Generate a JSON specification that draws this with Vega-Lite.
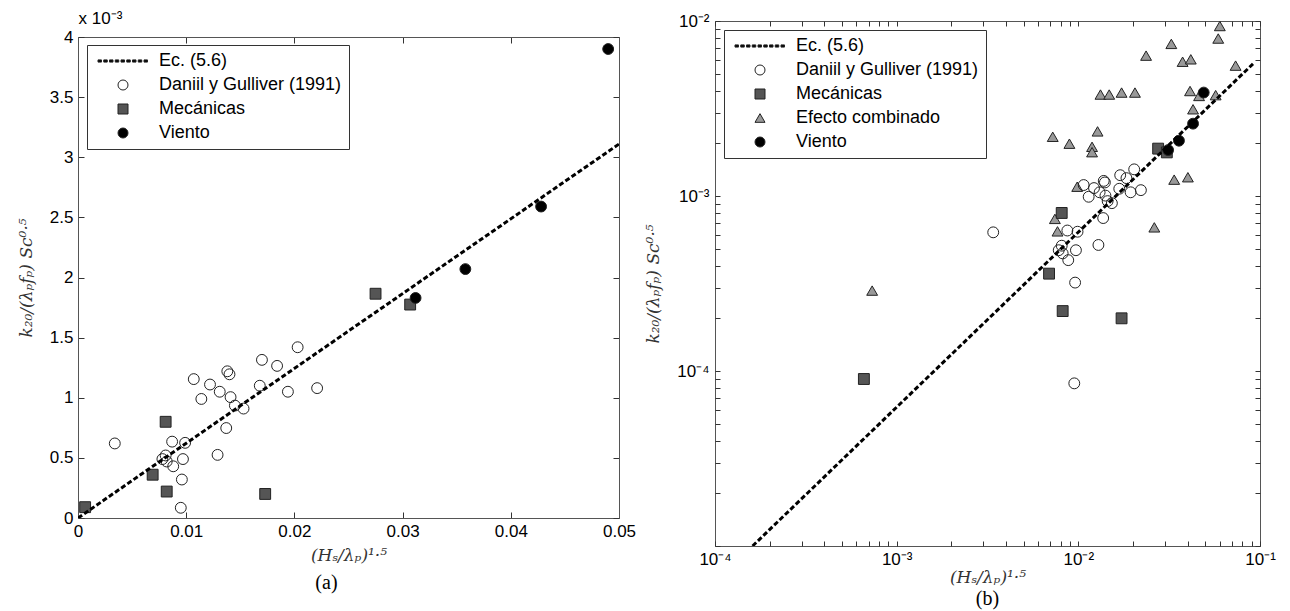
{
  "$schema": "https://vega.github.io/schema/vega-lite/v6.json",
  "background": "white",
  "padding": {"left": 17, "top": 9, "right": 5, "bottom": 0},
  "spacing": 8,
  "config": {
    "view": {"stroke": "#555", "strokeWidth": 1},
    "font": "Liberation Sans",
    "axis": {
      "grid": false, "domain": false, "tickColor": "#333", "tickSize": -6, "tickWidth": 1,
      "labelFont": "Liberation Sans", "labelFontSize": 17, "labelColor": "#000", "labelPadding": 11,
      "labelFlush": false, "labelOverlap": false,
      "titleFont": "DejaVu Serif", "titleFontStyle": "italic", "titleFontWeight": "normal", "titleFontSize": 17, "titleColor": "#333"
    },
    "legend": {
      "orient": "top-left", "offset": 9, "padding": 7, "strokeColor": "#333", "fillColor": "white",
      "labelFont": "Liberation Sans", "labelFontSize": 18, "labelColor": "#000", "labelOffset": 27, "labelLimit": 400,
      "symbolOffset": 20, "symbolSize": 100, "symbolStrokeWidth": 1, "rowPadding": 6
    },
    "title": {"font": "Liberation Serif", "fontSize": 20, "fontWeight": "normal", "color": "#000", "orient": "bottom"}
  },
  "datasets": {
    "pts": [
      {"series": "Efecto combinado", "x": 0.000733, "y": 0.000288},
      {"series": "Efecto combinado", "x": 0.00723, "y": 0.00218},
      {"series": "Efecto combinado", "x": 0.00893, "y": 0.00199},
      {"series": "Efecto combinado", "x": 0.00743, "y": 0.00074},
      {"series": "Efecto combinado", "x": 0.00768, "y": 0.000628},
      {"series": "Efecto combinado", "x": 0.00986, "y": 0.00113},
      {"series": "Efecto combinado", "x": 0.0119, "y": 0.00191},
      {"series": "Efecto combinado", "x": 0.0119, "y": 0.00178},
      {"series": "Efecto combinado", "x": 0.01276, "y": 0.00234},
      {"series": "Efecto combinado", "x": 0.01324, "y": 0.0038},
      {"series": "Efecto combinado", "x": 0.01479, "y": 0.0038},
      {"series": "Efecto combinado", "x": 0.0173, "y": 0.0039},
      {"series": "Efecto combinado", "x": 0.0205, "y": 0.0039},
      {"series": "Efecto combinado", "x": 0.0236, "y": 0.00634},
      {"series": "Efecto combinado", "x": 0.0262, "y": 0.000662},
      {"series": "Efecto combinado", "x": 0.0325, "y": 0.0074},
      {"series": "Efecto combinado", "x": 0.0337, "y": 0.00124},
      {"series": "Efecto combinado", "x": 0.0375, "y": 0.00585},
      {"series": "Efecto combinado", "x": 0.0416, "y": 0.00604},
      {"series": "Efecto combinado", "x": 0.0401, "y": 0.00128},
      {"series": "Efecto combinado", "x": 0.0412, "y": 0.00398},
      {"series": "Efecto combinado", "x": 0.0462, "y": 0.00373},
      {"series": "Efecto combinado", "x": 0.0428, "y": 0.00313},
      {"series": "Efecto combinado", "x": 0.057, "y": 0.00377},
      {"series": "Efecto combinado", "x": 0.0601, "y": 0.00936},
      {"series": "Efecto combinado", "x": 0.0589, "y": 0.00794},
      {"series": "Efecto combinado", "x": 0.0734, "y": 0.00556},
      {"series": "Daniil y Gulliver (1991)", "x": 0.0034, "y": 0.00062},
      {"series": "Daniil y Gulliver (1991)", "x": 0.0078, "y": 0.00049},
      {"series": "Daniil y Gulliver (1991)", "x": 0.0081, "y": 0.00052},
      {"series": "Daniil y Gulliver (1991)", "x": 0.0082, "y": 0.00047},
      {"series": "Daniil y Gulliver (1991)", "x": 0.0087, "y": 0.000635},
      {"series": "Daniil y Gulliver (1991)", "x": 0.0088, "y": 0.00043},
      {"series": "Daniil y Gulliver (1991)", "x": 0.0096, "y": 0.00032},
      {"series": "Daniil y Gulliver (1991)", "x": 0.0097, "y": 0.00049},
      {"series": "Daniil y Gulliver (1991)", "x": 0.0099, "y": 0.000625},
      {"series": "Daniil y Gulliver (1991)", "x": 0.0095, "y": 0.000085},
      {"series": "Daniil y Gulliver (1991)", "x": 0.0107, "y": 0.001155},
      {"series": "Daniil y Gulliver (1991)", "x": 0.0114, "y": 0.00099},
      {"series": "Daniil y Gulliver (1991)", "x": 0.0122, "y": 0.00111},
      {"series": "Daniil y Gulliver (1991)", "x": 0.0131, "y": 0.00105},
      {"series": "Daniil y Gulliver (1991)", "x": 0.0129, "y": 0.000525},
      {"series": "Daniil y Gulliver (1991)", "x": 0.0138, "y": 0.00122},
      {"series": "Daniil y Gulliver (1991)", "x": 0.014, "y": 0.001195},
      {"series": "Daniil y Gulliver (1991)", "x": 0.0141, "y": 0.001005},
      {"series": "Daniil y Gulliver (1991)", "x": 0.0137, "y": 0.000748},
      {"series": "Daniil y Gulliver (1991)", "x": 0.0145, "y": 0.000935},
      {"series": "Daniil y Gulliver (1991)", "x": 0.0153, "y": 0.00091},
      {"series": "Daniil y Gulliver (1991)", "x": 0.0168, "y": 0.0011},
      {"series": "Daniil y Gulliver (1991)", "x": 0.017, "y": 0.001315},
      {"series": "Daniil y Gulliver (1991)", "x": 0.0184, "y": 0.001265},
      {"series": "Daniil y Gulliver (1991)", "x": 0.0194, "y": 0.00105},
      {"series": "Daniil y Gulliver (1991)", "x": 0.0203, "y": 0.00142},
      {"series": "Daniil y Gulliver (1991)", "x": 0.0221, "y": 0.00108},
      {"series": "Mecánicas", "x": 0.00066, "y": 0.00009},
      {"series": "Mecánicas", "x": 0.0069, "y": 0.00036},
      {"series": "Mecánicas", "x": 0.0081, "y": 0.0008},
      {"series": "Mecánicas", "x": 0.0082, "y": 0.00022},
      {"series": "Mecánicas", "x": 0.0173, "y": 0.0002},
      {"series": "Mecánicas", "x": 0.0275, "y": 0.001865},
      {"series": "Mecánicas", "x": 0.0307, "y": 0.001775},
      {"series": "Viento", "x": 0.0312, "y": 0.00183},
      {"series": "Viento", "x": 0.0358, "y": 0.00207},
      {"series": "Viento", "x": 0.0428, "y": 0.00259},
      {"series": "Viento", "x": 0.049, "y": 0.0039}
    ],
    "line_a": [{"x": 0, "y": 0}, {"x": 0.05, "y": 0.00311}],
    "line_b": [{"x": 0.000161, "y": 0.00001}, {"x": 0.0915, "y": 0.00569}]
  },
  "hconcat": [
    {
      "width": 541,
      "height": 497,
      "view": {"stroke": null},
      "title": {"text": "(a)", "orient": "bottom", "frame": "bounds", "offset": 10},
      "layer": [
        {
          "data": {"name": "pts"},
          "transform": [{"filter": "datum.series !== 'Efecto combinado'"}],
          "mark": {"type": "point", "filled": true, "opacity": 1, "size": 118, "stroke": "#222", "strokeWidth": 1},
          "encoding": {
            "x": {"field": "x", "type": "quantitative",
              "scale": {"domain": [0, 0.05], "nice": false, "zero": false},
              "axis": {"orient": "bottom", "domain": true, "domainColor": "#555", "values": [0, 0.01, 0.02, 0.03, 0.04, 0.05], "labelExpr": "format(datum.value, '~g')", "title": "(Hₛ/λₚ)¹·⁵", "titlePadding": 8}},
            "y": {"field": "y", "type": "quantitative",
              "scale": {"domain": [0, 0.004], "nice": false, "zero": false, "range": [497, 16]},
              "axis": {"orient": "left", "domain": true, "domainColor": "#555", "values": [0, 0.0005, 0.001, 0.0015, 0.002, 0.0025, 0.003, 0.0035, 0.004], "labelExpr": "format(datum.value * 1000, '~g')", "title": "k₂₀/(λₚfₚ) Sc⁰·⁵", "titlePadding": 14}},
            "color": {"field": "series", "type": "nominal",
              "scale": {"domain": ["Ec. (5.6)", "Daniil y Gulliver (1991)", "Mecánicas", "Viento"], "range": ["#000000", "transparent", "#555555", "#000000"]},
              "legend": {"title": null, "orient": "none", "legendX": 9, "legendY": 24}},
            "shape": {"field": "series", "type": "nominal",
              "scale": {"domain": ["Ec. (5.6)", "Daniil y Gulliver (1991)", "Mecánicas", "Viento"], "range": ["M-5,-0.22H-4.3V0.22H-5Z M-3.85,-0.22H-3.15V0.22H-3.85Z M-2.7,-0.22H-2V0.22H-2.7Z M-1.55,-0.22H-0.85V0.22H-1.55Z M-0.4,-0.22H0.3V0.22H-0.4Z M0.75,-0.22H1.45V0.22H0.75Z M1.9,-0.22H2.6V0.22H1.9Z M3.05,-0.22H3.75V0.22H3.05Z M4.2,-0.22H4.9V0.22H4.2Z", "circle", "square", "circle"]},
              "legend": {"title": null, "orient": "none", "legendX": 9, "legendY": 24}}
          }
        },
        {
          "data": {"name": "line_a"},
          "mark": {"type": "line", "color": "#000", "strokeWidth": 3, "strokeDash": [5, 2.5], "clip": true},
          "encoding": {
            "x": {"field": "x", "type": "quantitative",
              "axis": {"orient": "top", "offset": -16, "domain": true, "domainColor": "#555", "values": [0, 0.01, 0.02, 0.03, 0.04, 0.05], "labels": false, "title": "x 10⁻³", "titleAnchor": "start", "titleAlign": "left", "titleFont": "Liberation Sans", "titleFontStyle": "normal", "titleFontSize": 17, "titleColor": "#000", "titlePadding": 9}},
            "y": {"field": "y", "type": "quantitative",
              "axis": {"orient": "right", "domain": true, "domainColor": "#555", "values": [0, 0.0005, 0.001, 0.0015, 0.002, 0.0025, 0.003, 0.0035, 0.004], "labels": false, "title": null}}
          }
        }
      ]
    },
    {
      "width": 545,
      "height": 525,
      "title": {"text": "(b)", "orient": "bottom", "frame": "group", "offset": 4},
      "layer": [
        {
          "data": {"name": "pts"},
          "mark": {"type": "point", "filled": true, "opacity": 1, "size": 118, "stroke": "#222", "strokeWidth": 1},
          "encoding": {
            "x": {"field": "x", "type": "quantitative",
              "scale": {"type": "log", "domain": [0.0001, 0.1], "nice": false},
              "axis": {"orient": "bottom", "values": [0.0001, 0.0002, 0.0003, 0.0004, 0.0005, 0.0006, 0.0007, 0.0008, 0.0009, 0.001, 0.002, 0.003, 0.004, 0.005, 0.006, 0.007, 0.008, 0.009, 0.01, 0.02, 0.03, 0.04, 0.05, 0.06, 0.07, 0.08, 0.09, 0.1],
                "labelExpr": "datum.value === 0.0001 ? '10⁻⁴' : datum.value === 0.001 ? '10⁻³' : datum.value === 0.01 ? '10⁻²' : datum.value === 0.1 ? '10⁻¹' : ''",
                "tickSize": -5, "labelPadding": 10, "title": "(Hₛ/λₚ)¹·⁵", "titlePadding": 2}},
            "y": {"field": "y", "type": "quantitative",
              "scale": {"type": "log", "domain": [0.00001, 0.01], "nice": false},
              "axis": {"orient": "left", "values": [0.00001, 0.00002, 0.00003, 0.00004, 0.00005, 0.00006, 0.00007, 0.00008, 0.00009, 0.0001, 0.0002, 0.0003, 0.0004, 0.0005, 0.0006, 0.0007, 0.0008, 0.0009, 0.001, 0.002, 0.003, 0.004, 0.005, 0.006, 0.007, 0.008, 0.009, 0.01],
                "labelExpr": "datum.value === 0.0001 ? '10⁻⁴' : datum.value === 0.001 ? '10⁻³' : datum.value === 0.01 ? '10⁻²' : ''",
                "tickSize": -5, "title": "k₂₀/(λₚfₚ) Sc⁰·⁵", "titlePadding": 14}},
            "color": {"field": "series", "type": "nominal",
              "scale": {"domain": ["Ec. (5.6)", "Daniil y Gulliver (1991)", "Mecánicas", "Efecto combinado", "Viento"], "range": ["#000000", "transparent", "#555555", "#999999", "#000000"]},
              "legend": {"title": null}},
            "shape": {"field": "series", "type": "nominal",
              "scale": {"domain": ["Ec. (5.6)", "Daniil y Gulliver (1991)", "Mecánicas", "Efecto combinado", "Viento"], "range": ["M-5,-0.22H-4.3V0.22H-5Z M-3.85,-0.22H-3.15V0.22H-3.85Z M-2.7,-0.22H-2V0.22H-2.7Z M-1.55,-0.22H-0.85V0.22H-1.55Z M-0.4,-0.22H0.3V0.22H-0.4Z M0.75,-0.22H1.45V0.22H0.75Z M1.9,-0.22H2.6V0.22H1.9Z M3.05,-0.22H3.75V0.22H3.05Z M4.2,-0.22H4.9V0.22H4.2Z", "circle", "square", "triangle-up", "circle"]},
              "legend": {"title": null}}
          }
        },
        {
          "data": {"name": "line_b"},
          "mark": {"type": "line", "color": "#000", "strokeWidth": 3, "strokeDash": [5, 2.5], "clip": true},
          "encoding": {
            "x": {"field": "x", "type": "quantitative",
              "axis": {"orient": "top", "values": [0.0001, 0.0002, 0.0003, 0.0004, 0.0005, 0.0006, 0.0007, 0.0008, 0.0009, 0.001, 0.002, 0.003, 0.004, 0.005, 0.006, 0.007, 0.008, 0.009, 0.01, 0.02, 0.03, 0.04, 0.05, 0.06, 0.07, 0.08, 0.09, 0.1], "labels": false, "tickSize": -5, "title": null}},
            "y": {"field": "y", "type": "quantitative",
              "axis": {"orient": "right", "values": [0.00001, 0.00002, 0.00003, 0.00004, 0.00005, 0.00006, 0.00007, 0.00008, 0.00009, 0.0001, 0.0002, 0.0003, 0.0004, 0.0005, 0.0006, 0.0007, 0.0008, 0.0009, 0.001, 0.002, 0.003, 0.004, 0.005, 0.006, 0.007, 0.008, 0.009, 0.01], "labels": false, "tickSize": -5, "title": null}}
          }
        }
      ]
    }
  ],
  "resolve": {
    "scale": {"x": "independent", "y": "independent", "color": "independent", "shape": "independent"},
    "legend": {"color": "independent", "shape": "independent"}
  }
}
